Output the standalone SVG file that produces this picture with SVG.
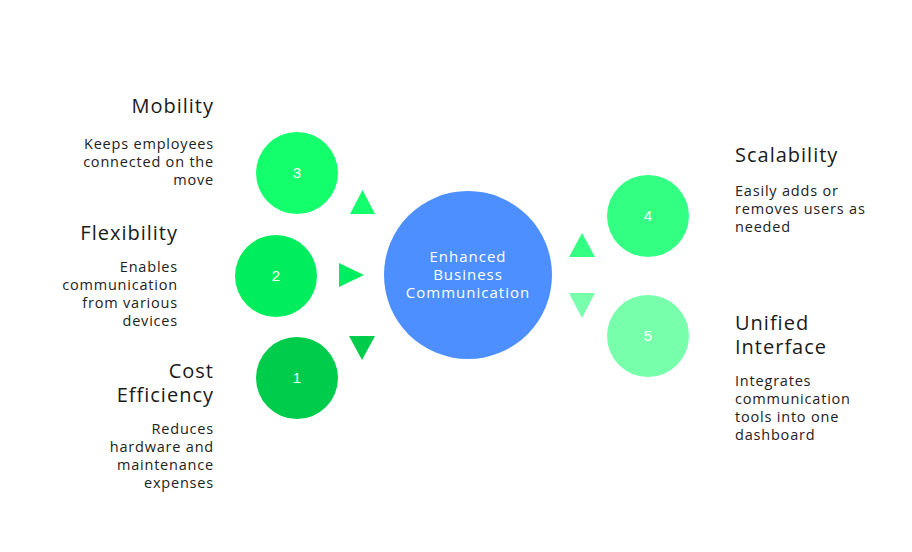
<svg xmlns="http://www.w3.org/2000/svg" width="912" height="552" viewBox="0 0 912 552">
<style>
.t{font-family:"Open Sans","DejaVu Sans",sans-serif;font-size:20px;fill:#1a1a1a;letter-spacing:1px}
.b{font-family:"Open Sans","DejaVu Sans",sans-serif;font-size:14.5px;fill:#222;letter-spacing:0.8px}
.n{font-family:"Liberation Sans",Arial,sans-serif;font-size:15px;fill:#fff;text-anchor:middle}
.c{font-family:"Open Sans","DejaVu Sans",sans-serif;font-size:15px;fill:#fff;text-anchor:middle;letter-spacing:1px}
.r{text-anchor:end}
</style>
<rect width="912" height="552" fill="#fff"/>
<g id="connectors">
<polygon points="350,214 375,214 362.5,190" fill="#13FF6C"/>
<polygon points="339,263 339,287 364,275" fill="#00EE5E"/>
<polygon points="349,336 375,336 362,360" fill="#00CC4C"/>
<polygon points="569,257 595,257 582,233" fill="#33FF83"/>
<polygon points="569,293 595,293 582,318" fill="#78FFAB"/>
</g>
<g id="center">
<circle cx="468" cy="275" r="84" fill="#4D8FFF"/>
<text class="c" x="468" y="262">Enhanced</text>
<text class="c" x="468" y="280">Business</text>
<text class="c" x="468" y="298">Communication</text>
</g>
<g id="node3">
<circle cx="297" cy="173" r="41" fill="#13FF6C"/>
<text class="n" x="297" y="178">3</text>
<text class="t r" x="214" y="113">Mobility</text>
<text class="b r" x="214" y="149">Keeps employees</text>
<text class="b r" x="214" y="167">connected on the</text>
<text class="b r" x="214" y="185">move</text>
</g>
<g id="node2">
<circle cx="276" cy="276" r="41" fill="#00EE5E"/>
<text class="n" x="276" y="281">2</text>
<text class="t r" x="178" y="240">Flexibility</text>
<text class="b r" x="178" y="272">Enables</text>
<text class="b r" x="178" y="290">communication</text>
<text class="b r" x="178" y="308">from various</text>
<text class="b r" x="178" y="326">devices</text>
</g>
<g id="node1">
<circle cx="297" cy="378" r="41" fill="#00CC4C"/>
<text class="n" x="297" y="383">1</text>
<text class="t r" x="214" y="378">Cost</text>
<text class="t r" x="214" y="402">Efficiency</text>
<text class="b r" x="214" y="434">Reduces</text>
<text class="b r" x="214" y="452">hardware and</text>
<text class="b r" x="214" y="470">maintenance</text>
<text class="b r" x="214" y="488">expenses</text>
</g>
<g id="node4">
<circle cx="648" cy="216" r="41" fill="#33FF83"/>
<text class="n" x="648" y="221">4</text>
<text class="t" x="735" y="162">Scalability</text>
<text class="b" x="735" y="196">Easily adds or</text>
<text class="b" x="735" y="214">removes users as</text>
<text class="b" x="735" y="232">needed</text>
</g>
<g id="node5">
<circle cx="648" cy="336" r="41" fill="#78FFAB"/>
<text class="n" x="648" y="341">5</text>
<text class="t" x="735" y="330">Unified</text>
<text class="t" x="735" y="354">Interface</text>
<text class="b" x="735" y="386">Integrates</text>
<text class="b" x="735" y="404">communication</text>
<text class="b" x="735" y="422">tools into one</text>
<text class="b" x="735" y="440">dashboard</text>
</g>
</svg>
